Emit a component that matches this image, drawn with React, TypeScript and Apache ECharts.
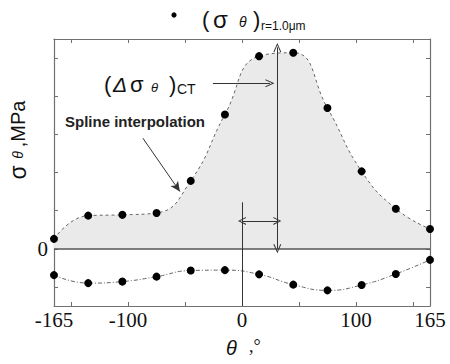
import React, { useEffect, useRef } from "react";
import * as echarts from "echarts";

// Sampling angles (deg) and hoop stress at r = 1.0 μm (arbitrary MPa units)
const theta = [-165, -135, -105, -75, -45, -15, 15, 45, 75, 105, 135, 165];
const upperStress = [0.26, 0.87, 0.89, 0.94, 1.78, 3.52, 5.05, 5.14, 3.69, 2.03, 1.05, 0.52];
const lowerStress = [-0.69, -0.9, -0.86, -0.73, -0.57, -0.56, -0.67, -0.94, -1.09, -0.95, -0.66, -0.29];

const xTicks = [-150, -100, -50, 0, 50, 100, 150];
const xLabels = [-165, -100, 0, 100, 165];
const yTicks = [-1, 0, 1, 2, 3, 4, 5];
const yLabels = [0];

// Annotation geometry in data units
const theta1 = 31;
const peakStress = 5.28;
const theta1ArrowY = 0.73;
const zeroLineTop = 1.22;

const serif = "'Liberation Serif', 'DejaVu Serif', serif";
const sans = "'Liberation Sans', Arial, sans-serif";
const axisColor = "#707070";

// open (chevron) arrow head
const openArrow = "path://M0,10 L5,0 L10,10 L8.6,10 L5,2.6 L1.4,10 Z";

export default function App() {
  const ref = useRef<HTMLDivElement>(null);

  useEffect(() => {
    if (!ref.current) return;
    const chart = echarts.init(ref.current, null, { renderer: "svg" });

    const upper = theta.map((t, i) => [t, upperStress[i]]);
    const lower = theta.map((t, i) => [t, lowerStress[i]]);

    const txt = (x: number, y: number, text: string, fontSize: number, extra: any = {}) => ({
      type: "text",
      x,
      y,
      style: { text, fontFamily: sans, fontSize, fill: "#111", verticalAlign: "middle", ...extra },
    });

    chart.setOption({
      animation: false,
      backgroundColor: "#fff",
      grid: { left: 54, right: 20, top: 39, bottom: 58 },
      xAxis: [
        {
          type: "value",
          min: -165,
          max: 165,
          position: "bottom",
          axisLine: { onZero: false, lineStyle: { color: axisColor, width: 1.2 } },
          axisTick: { inside: true, length: 4, customValues: xTicks, lineStyle: { color: axisColor } },
          axisLabel: {
            customValues: xLabels,
            color: "#111",
            fontFamily: serif,
            fontSize: 21,
            margin: 3,
          },
          splitLine: { show: false },
        },
        {
          type: "value",
          min: -165,
          max: 165,
          position: "top",
          axisLine: { onZero: false, lineStyle: { color: axisColor, width: 1.2 } },
          axisTick: { inside: true, length: 4, customValues: xTicks, lineStyle: { color: axisColor } },
          axisLabel: { show: false },
          splitLine: { show: false },
        },
      ],
      yAxis: [
        {
          type: "value",
          min: -1.5,
          max: 5.5,
          position: "left",
          axisLine: { onZero: false, show: true, lineStyle: { color: axisColor, width: 1.2 } },
          axisTick: { show: true, inside: true, length: 4, customValues: yTicks, lineStyle: { color: axisColor } },
          axisLabel: {
            customValues: yLabels,
            color: "#111",
            fontFamily: serif,
            fontSize: 21,
            margin: 6,
          },
          splitLine: { show: false },
        },
        {
          type: "value",
          min: -1.5,
          max: 5.5,
          position: "right",
          axisLine: { onZero: false, show: true, lineStyle: { color: axisColor, width: 1.2 } },
          axisTick: { show: true, inside: true, length: 4, customValues: yTicks, lineStyle: { color: axisColor } },
          axisLabel: { show: false },
          splitLine: { show: false },
        },
      ],
      series: [
        {
          type: "line",
          data: upper,
          smooth: 0.5,
          symbol: "circle",
          symbolSize: 8,
          itemStyle: { color: "#000" },
          lineStyle: { color: "#666", width: 1, type: [3, 3] },
          areaStyle: { color: "#eaeaea", opacity: 1, origin: 0 },
          z: 3,
        },
        {
          type: "line",
          data: lower,
          smooth: 0.5,
          symbol: "circle",
          symbolSize: 8,
          itemStyle: { color: "#000" },
          lineStyle: { color: "#666", width: 1, type: [4, 2, 1, 2] },
          z: 3,
          markLine: {
            silent: true,
            symbol: "none",
            label: { show: false },
            lineStyle: { type: "solid", color: "#333", width: 1 },
            data: [
              // zero stress line
              [
                { coord: [-165, 0], symbol: "none", lineStyle: { color: "#555", width: 1.5 } },
                { coord: [165, 0], symbol: "none" },
              ],
              // θ = 0 reference line
              [
                { coord: [0, -1.5], symbol: "none", lineStyle: { color: "#333", width: 1 } },
                { coord: [0, zeroLineTop], symbol: "none" },
              ],
              // (Δσθ)CT span at θ1
              [
                { coord: [theta1, 0], symbol: openArrow, symbolSize: [8, 9] },
                { coord: [theta1, peakStress], symbol: openArrow, symbolSize: [8, 9] },
              ],
              // θ1 offset
              [
                { coord: [0, theta1ArrowY], symbol: openArrow, symbolSize: [8, 8] },
                { coord: [theta1, theta1ArrowY], symbol: openArrow, symbolSize: [8, 8] },
              ],
              // pointer from (Δσθ)CT label
              [
                { coord: [-25.5, 4.34], symbol: "none" },
                { coord: [24.5, 4.34], symbol: openArrow, symbolSize: [8, 9] },
              ],
              // pointer from spline label
              [
                { coord: [-87, 2.9], symbol: "none" },
                { coord: [-54.5, 1.5], symbol: "arrow", symbolSize: [7, 10] },
              ],
            ],
          },
        },
      ],
      graphic: [
        // legend dot
        { type: "circle", shape: { cx: 174, cy: 15, r: 2.6 }, style: { fill: "#000" } },
        // title (σθ) r=1.0μm
        txt(202, 19, "(", 22),
        txt(213, 19, "σ", 24),
        txt(239, 22, "θ", 14, { fontStyle: "italic" }),
        txt(253, 19, ")", 22),
        txt(261, 26, "r=1.0μm", 12),
        // (Δσθ)CT label
        txt(104, 84, "(", 22),
        txt(113, 84, "Δ", 21, { fontStyle: "italic" }),
        txt(130, 84, "σ", 22),
        txt(151, 87, "θ", 13, { fontStyle: "italic" }),
        txt(169, 84, ")", 22),
        txt(177, 89, "CT", 14),
        // spline label
        txt(65, 121, "Spline interpolation", 15, { fontWeight: "bold", fill: "#222" }),
        // θ1 label
        txt(252, 202, "θ", 16, { fontStyle: "italic" }),
        txt(267, 208, "1", 10),
        // y-axis name
        {
          type: "text",
          x: 18,
          y: 140,
          rotation: Math.PI / 2,
          style: {
            text: "{s|σ }{t|θ }{m|,MPa}",
            rich: {
              s: { fontFamily: sans, fontSize: 23, fill: "#111" },
              t: { fontFamily: sans, fontSize: 14, fontStyle: "italic", fill: "#111" },
              m: { fontFamily: sans, fontSize: 20, fill: "#111" },
            },
            align: "center",
            verticalAlign: "middle",
          },
        },
        // x-axis name
        txt(226, 348, "θ", 20, { fontStyle: "italic" }),
        txt(249, 346, ",°", 18, { fontFamily: serif }),
      ],
    });

    return () => chart.dispose();
  }, []);

  return (
    <div
      ref={ref}
      style={{ position: "fixed", left: 0, top: 0, width: 450, height: 364, background: "#fff" }}
    />
  );
}
